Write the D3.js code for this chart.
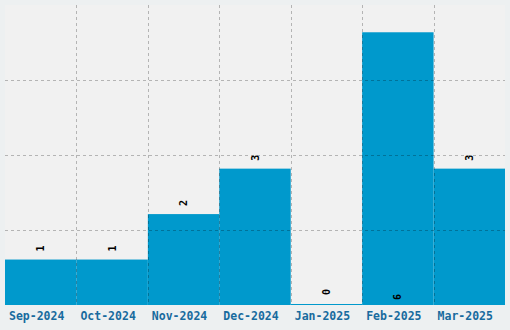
<!DOCTYPE html>
<html>
<head>
<meta charset="utf-8">
<script src="https://cdn.jsdelivr.net/npm/d3@7"></script>
<style>
  html, body { margin: 0; padding: 0; background: #edf0f1; }
  svg { display: block; }
</style>
</head>
<body>
<div id="chart"></div>
<script>
'use strict';

// data
var months = ['Sep-2024', 'Oct-2024', 'Nov-2024', 'Dec-2024', 'Jan-2025', 'Feb-2025', 'Mar-2025'];
var counts = [1, 1, 2, 3, 0, 6, 3];

var w = 510
  , h = 330
  , margin = {top: 5, right: 5, bottom: 25, left: 5}
  , pw = w - margin.left - margin.right
  , ph = h - margin.top - margin.bottom
  , yMax = d3.max(counts) * 1.1;

var svg = d3.select('#chart').append('svg')
    .attr('width', w)
    .attr('height', h);

var g = svg.append('g')
    .attr('transform', 'translate(' + margin.left + ',' + margin.top + ')');

var x = d3.scaleBand().domain(months).range([0, pw]).padding(0);
var y = d3.scaleLinear().domain([0, yMax]).range([ph, 0]);

// plot background
g.append('rect')
    .attr('width', pw)
    .attr('height', ph)
    .style('fill', '#f1f1f1');

// bars
g.selectAll('rect.bar')
    .data(counts)
    .enter().append('rect')
      .attr('class', 'bar')
      .attr('x', function (d, i) { return x(months[i]); })
      .attr('width', x.bandwidth())
      .attr('y', function (d) { return d === 0 ? ph - 1 : y(d); })
      .attr('height', function (d) { return d === 0 ? 1 : ph - y(d); })
      .style('fill', '#0099cc');

// grid lines, drawn over the bars
var grid = g.append('g')
    .style('stroke', 'rgba(0,0,0,0.25)')
    .style('stroke-dasharray', '3,3');

grid.selectAll('line.v')
    .data(months.slice(1))
    .enter().append('line')
      .attr('x1', function (d) { return Math.round(x(d)) + 0.5; })
      .attr('x2', function (d) { return Math.round(x(d)) + 0.5; })
      .attr('y1', 0)
      .attr('y2', ph);

grid.selectAll('line.h')
    .data([1, 2, 3].map(function (k) { return yMax * k / 4; }))
    .enter().append('line')
      .attr('x1', 0)
      .attr('x2', pw)
      .attr('y1', function (d) { return Math.round(y(d)) + 0.5; })
      .attr('y2', function (d) { return Math.round(y(d)) + 0.5; });

// value labels, rotated; the tallest bar gets its label inside at the bottom
g.selectAll('text.val')
    .data(counts)
    .enter().append('text')
      .attr('class', 'val')
      .attr('transform', function (d, i) {
        var cx = x(months[i]) + x.bandwidth() / 2 + 3.5
          , ty = (y(d) < 40) ? ph - 5 : y(d) - 8;
        if (d === 0) ty = ph - 10;
        return 'translate(' + cx + ',' + ty + ') rotate(-90)';
      })
      .style('font-family', '"DejaVu Sans Mono", monospace')
      .style('font-weight', 'bold')
      .style('font-size', '10px')
      .style('fill', '#000')
      .text(function (d) { return d; });

// category labels, left aligned in each band
g.selectAll('text.cat')
    .data(months)
    .enter().append('text')
      .attr('class', 'cat')
      .attr('x', function (d) { return x(d) + 4; })
      .attr('y', ph + 14.5)
      .style('font-family', '"DejaVu Sans Mono", monospace')
      .style('font-weight', 'bold')
      .style('font-size', '11.5px')
      .style('fill', '#186b9e')
      .text(function (d) { return d; });
</script>
</body>
</html>
